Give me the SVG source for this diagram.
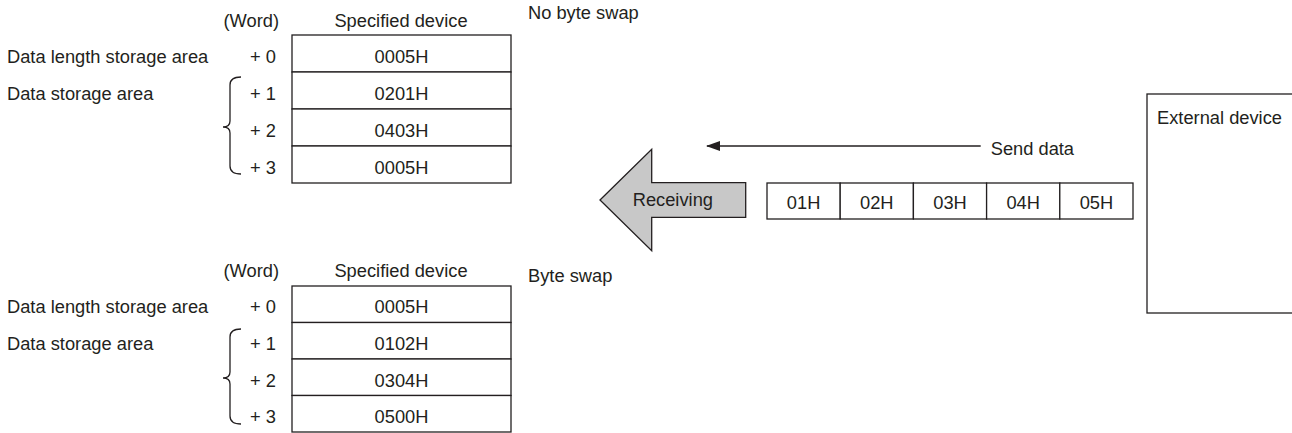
<svg xmlns="http://www.w3.org/2000/svg" width="1292" height="433" viewBox="0 0 1292 433">
<style>
text{font-family:"Liberation Sans",Arial,sans-serif;font-size:18.3px;fill:#231f20}
.c{text-anchor:middle}
.r{text-anchor:end}
.box{fill:#fff;stroke:#231f20;stroke-width:1.3}
.ln{fill:none;stroke:#231f20;stroke-width:1.3}
</style>
<defs>
<marker id="ah" markerWidth="14" markerHeight="10" refX="13" refY="5" orient="auto" markerUnits="userSpaceOnUse">
<path d="M0,0 L14,5 L0,10 z" fill="#231f20"/>
</marker>
</defs>
<rect width="1292" height="433" fill="#fff"/>

<g id="top-labels">
<text x="528" y="18.5">No byte swap</text>
<text class="r" x="279" y="26.7">(Word)</text>
<text class="c" x="401" y="26.7">Specified device</text>
<text x="7" y="62.5">Data length storage area</text>
<text x="7" y="99.5">Data storage area</text>
<text class="r" x="276" y="62.5">+ 0</text>
<text class="r" x="276" y="99.5">+ 1</text>
<text class="r" x="276" y="136.5">+ 2</text>
<text class="r" x="276" y="173.5">+ 3</text>
<path class="ln" d="M241,77 Q230,77 230,85 L230,121 Q230,127 223,127 Q230,127 230,133 L230,166 Q230,174 241,174"/>
</g>
<g id="top-table">
<rect class="box" x="292" y="35" width="219" height="37"/>
<rect class="box" x="292" y="72" width="219" height="37"/>
<rect class="box" x="292" y="109" width="219" height="37"/>
<rect class="box" x="292" y="146" width="219" height="37"/>
<text class="c" x="401.5" y="62.5">0005H</text>
<text class="c" x="401.5" y="99.5">0201H</text>
<text class="c" x="401.5" y="136.5">0403H</text>
<text class="c" x="401.5" y="173.5">0005H</text>
</g>

<g id="bottom-labels">
<text x="528" y="282">Byte swap</text>
<text class="r" x="279" y="276.7">(Word)</text>
<text class="c" x="401" y="276.7">Specified device</text>
<text x="7" y="313.3">Data length storage area</text>
<text x="7" y="350">Data storage area</text>
<text class="r" x="276" y="313.3">+ 0</text>
<text class="r" x="276" y="350">+ 1</text>
<text class="r" x="276" y="386.7">+ 2</text>
<text class="r" x="276" y="423.3">+ 3</text>
<path class="ln" d="M241,329 Q230,329 230,337 L230,372 Q230,378 223,378 Q230,378 230,384 L230,416 Q230,424 241,424"/>
</g>
<g id="bottom-table">
<rect class="box" x="292" y="286" width="219" height="36.5"/>
<rect class="box" x="292" y="322.5" width="219" height="36.5"/>
<rect class="box" x="292" y="359" width="219" height="36.5"/>
<rect class="box" x="292" y="395.5" width="219" height="36.5"/>
<text class="c" x="401.5" y="313.3">0005H</text>
<text class="c" x="401.5" y="350">0102H</text>
<text class="c" x="401.5" y="386.7">0304H</text>
<text class="c" x="401.5" y="423.3">0500H</text>
</g>

<g id="receiving">
<polygon points="600,200 651.7,149.3 651.7,182.7 745.7,182.7 745.7,217.3 651.7,217.3 651.7,250.7" fill="#c8c8c8" stroke="#231f20" stroke-width="1.3"/>
<text x="632.7" y="205.7">Receiving</text>
</g>

<g id="send-data">
<rect class="box" x="767" y="183" width="73.2" height="36"/>
<rect class="box" x="840.2" y="183" width="73.2" height="36"/>
<rect class="box" x="913.4" y="183" width="73.2" height="36"/>
<rect class="box" x="986.6" y="183" width="73.2" height="36"/>
<rect class="box" x="1059.8" y="183" width="73.2" height="36"/>
<text class="c" x="803.6" y="208.5">01H</text>
<text class="c" x="876.8" y="208.5">02H</text>
<text class="c" x="950" y="208.5">03H</text>
<text class="c" x="1023.2" y="208.5">04H</text>
<text class="c" x="1096.4" y="208.5">05H</text>
<text x="990.7" y="155">Send data</text>
</g>

<g id="external-device">
<rect class="box" x="1147" y="94" width="160" height="219"/>
<text x="1157" y="124">External device</text>
</g>

<g id="connectors">
<line class="ln" x1="980.7" y1="146" x2="707" y2="146" marker-end="url(#ah)"/>
</g>
</svg>
